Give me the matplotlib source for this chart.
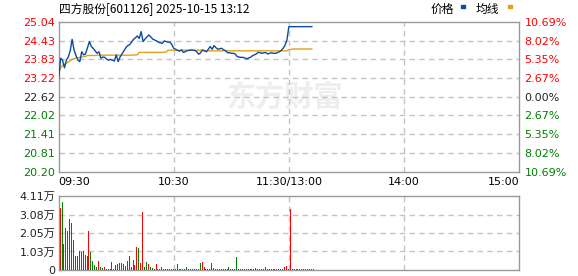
import numpy as np
import matplotlib
matplotlib.use("Agg")
from matplotlib import pyplot as plt
from matplotlib.patches import Rectangle

plt.rcParams['font.family'] = ['DejaVu Sans', 'Noto Sans CJK SC']

title = "四方股份[601126] 2025-10-15 13:12"
prev_close = 22.62

# minute prices from 09:30 (index 0) up to 13:12 (index 132)
price = [23.21, 23.86, 23.80, 23.55, 23.80, 23.90, 24.10, 24.47, 24.13, 23.95,
         23.80, 23.75, 24.07, 23.97, 24.00, 24.20, 24.40, 24.24, 24.18, 24.10,
         24.02, 24.07, 23.86, 23.90, 23.89, 23.83, 23.80, 23.82, 23.80, 23.77,
         23.97, 23.75, 23.90, 24.00, 24.10, 24.20, 24.27, 24.30, 24.38, 24.47,
         24.52, 24.58, 24.50, 24.72, 24.40, 24.48, 24.55, 24.61, 24.55, 24.48,
         24.45, 24.42, 24.38, 24.36, 24.34, 24.42, 24.40, 24.38, 24.38, 24.30,
         24.18, 24.15, 24.11, 24.09, 24.13, 24.05, 24.07, 24.11, 24.11, 24.13,
         24.12, 24.11, 24.07, 23.99, 24.04, 24.13, 24.10, 24.07, 24.15, 24.24,
         24.15, 24.27, 24.20, 24.15, 24.17, 24.18, 24.13, 24.11, 24.04, 24.04,
         24.02, 24.02, 24.00, 23.92, 23.90, 23.89, 23.89, 23.87, 23.84, 23.87,
         23.89, 23.94, 23.97, 24.00, 24.05, 24.04, 24.02, 24.04, 24.04, 24.00,
         24.02, 24.04, 24.02, 24.02, 24.04, 24.07, 24.11, 24.18, 24.28, 24.45,
         24.88, 24.88, 24.88, 24.88, 24.88, 24.88, 24.88, 24.88, 24.88, 24.88,
         24.88, 24.88, 24.88]

avg = [23.40, 23.55, 23.63, 23.66, 23.70, 23.74, 23.78, 23.82, 23.85, 23.87,
       23.88, 23.89, 23.90, 23.91, 23.92, 23.95, 23.95, 23.95, 23.95, 23.95,
       23.96, 23.96, 23.96, 23.96, 23.96, 23.96, 23.96, 23.96, 23.96, 23.96,
       23.96, 23.96, 23.96, 23.96, 23.96, 23.96, 23.96, 23.96, 23.96, 23.96,
       23.97, 23.97, 24.05, 24.05, 24.05, 24.05, 24.05, 24.05, 24.05, 24.05,
       24.05, 24.05, 24.05, 24.05, 24.05, 24.06, 24.06, 24.12, 24.12, 24.12,
       24.12, 24.12, 24.12, 24.12, 24.12, 24.12, 24.12, 24.12, 24.12, 24.12,
       24.12, 24.12, 24.12, 24.12, 24.12, 24.12, 24.10, 24.10, 24.10, 24.10,
       24.10, 24.10, 24.10, 24.10, 24.10, 24.10, 24.10, 24.10, 24.10, 24.10,
       24.10, 24.10, 24.10, 24.10, 24.10, 24.10, 24.10, 24.10, 24.10, 24.10,
       24.10, 24.10, 24.10, 24.10, 24.10, 24.10, 24.10, 24.10, 24.10, 24.10,
       24.10, 24.10, 24.10, 24.10, 24.10, 24.10, 24.10, 24.10, 24.10, 24.10,
       24.14, 24.14, 24.16, 24.16, 24.16, 24.16, 24.16, 24.16, 24.16, 24.16,
       24.16, 24.16, 24.16]

# volume in 万 shares, 1 = up minute (red), 0 = down minute (green)
volume = [3.43, 3.76, 1.44, 2.31, 2.16, 2.81, 2.61, 1.65, 0.76, 0.76,
          1.07, 1.00, 1.07, 0.83, 0.76, 2.16, 1.02, 0.50, 0.26, 0.15,
          0.50, 0.15, 0.10, 0.15, 0.06, 0.06, 0.05, 0.44, 0.06, 0.26,
          0.33, 0.39, 0.39, 0.33, 0.20, 0.52, 0.76, 0.15, 0.57, 0.28,
          1.27, 1.20, 0.39, 3.20, 0.15, 0.44, 0.33, 0.15, 0.10, 0.06,
          0.33, 0.06, 0.06, 0.17, 0.05, 0.05, 0.05, 0.05, 0.05, 0.05,
          0.05, 0.33, 0.05, 0.06, 0.05, 0.05, 0.17, 0.05, 0.05, 0.05,
          0.05, 0.05, 0.05, 0.39, 0.44, 0.17, 0.05, 0.06, 0.05, 0.39,
          0.10, 0.05, 0.05, 0.05, 0.05, 0.05, 0.05, 0.05, 0.15, 0.05,
          0.05, 0.05, 0.72, 0.05, 0.05, 0.05, 0.05, 0.05, 0.05, 0.05,
          0.05, 0.05, 0.10, 0.05, 0.05, 0.05, 0.05, 0.15, 0.05, 0.05,
          0.05, 0.05, 0.05, 0.05, 0.05, 0.05, 0.05, 0.15, 0.20, 0.05,
          3.38, 0.05, 0.05, 0.05, 0.05, 0.05, 0.05, 0.05, 0.05, 0.05,
          0.05, 0.05, 0.05]
vol_up = [1, 0, 0, 1, 1, 1, 1, 0, 0, 0,
          1, 1, 0, 1, 1, 1, 0, 0, 0, 0,
          1, 0, 0, 1, 0, 0, 0, 1, 0, 1,
          0, 1, 1, 1, 1, 1, 0, 0, 1, 1,
          1, 0, 1, 1, 0, 0, 1, 0, 0, 0,
          1, 0, 1, 0, 0, 1, 0, 1, 0, 1,
          0, 0, 1, 1, 1, 1, 0, 0, 1, 1,
          1, 1, 1, 0, 1, 1, 0, 1, 1, 1,
          0, 0, 0, 0, 0, 0, 0, 0, 0, 0,
          0, 0, 0, 0, 0, 0, 0, 0, 0, 0,
          0, 0, 1, 0, 0, 0, 0, 1, 1, 1,
          1, 1, 1, 1, 1, 1, 1, 1, 1, 1,
          1, 1, 1, 1, 1, 1, 1, 1, 1, 1,
          1, 1, 1]

price_ticks = [25.04, 24.43, 23.83, 23.22, 22.62, 22.02, 21.41, 20.81, 20.20]
pct_labels = ["10.69%", "8.02%", "5.35%", "2.67%", "0.00%", "2.67%", "5.35%", "8.02%", "10.69%"]
time_ticks = [0, 60, 120, 180, 240]
time_labels = ["09:30", "10:30", "11:30/13:00", "14:00", "15:00"]
vol_ticks = [0, 1.03, 2.05, 3.08, 4.11]
vol_labels = ["0", "1.03万", "2.05万", "3.08万", "4.11万"]

RED = "#ff0000"
GREEN = "#008000"
DARK = "#222222"
BLUE = "#0c4c9e"
GOLD = "#e0a21c"
FRAME = "#999999"
GRID = "#c4c4c4"

W, H = 578, 276
fig = plt.figure(figsize=(W / 100, H / 100), dpi=100)

def fx(px):
    return px / W

def fy(px):
    return 1 - px / H

ax = fig.add_axes([fx(58.7), fy(171.7), fx(519) - fx(58.7), fy(21.7) - fy(171.7)])
axv = fig.add_axes([fx(58.7), fy(270), fx(519) - fx(58.7), fy(196) - fy(270)])

# watermark
ax.text(0.49, 0.5, "东方财富", transform=ax.transAxes, ha="center", va="center",
        fontsize=21, fontweight="bold", color="#eeeef1", family=['Noto Sans CJK SC'], zorder=0)

minutes = np.arange(len(price))
ax.plot(minutes, price, color=BLUE, lw=1.0, zorder=3)
ax.plot(minutes, avg, color=GOLD, lw=1.0, zorder=2)

for a in (ax, axv):
    a.set_xlim(0, 240)
    for s in a.spines.values():
        s.set_color(FRAME)
        s.set_linewidth(1.0)
    a.set_xticks(time_ticks)
    a.tick_params(length=0)

ax.set_ylim(price_ticks[-1], price_ticks[0])
ax.set_yticks(price_ticks)
ax.set_yticklabels([f"{t:.2f}" for t in price_ticks], fontsize=8)
ax.tick_params(axis="y", pad=2.5)
for lab, t in zip(ax.get_yticklabels(), price_ticks):
    lab.set_color(RED if t > prev_close else (GREEN if t < prev_close else DARK))

ax.set_xticklabels(time_labels, fontsize=8)
ax.tick_params(axis="x", pad=4)
xl = ax.get_xticklabels()
xl[0].set_ha("left")
xl[-1].set_ha("right")

# dashed grid inside the frame
for t in price_ticks[1:-1]:
    ax.axhline(t, color=GRID, ls=(0, (4, 3)), lw=1.0, zorder=1)
for t in time_ticks[1:-1]:
    ax.axvline(t, color=GRID, ls=(0, (4, 3)), lw=1.0, zorder=1)
    axv.axvline(t, color=GRID, ls=(0, (4, 3)), lw=1.0, zorder=1)
for t in vol_ticks[1:-1]:
    axv.axhline(t, color=GRID, ls=(0, (4, 3)), lw=1.0, zorder=1)

ax2 = ax.twinx()
ax2.set_ylim(price_ticks[-1], price_ticks[0])
ax2.set_yticks(price_ticks)
ax2.set_yticklabels(pct_labels, fontsize=8)
ax2.tick_params(length=0, pad=4)
for s in ax2.spines.values():
    s.set_visible(False)
for lab, t in zip(ax2.get_yticklabels(), price_ticks):
    lab.set_color(RED if t > prev_close else (GREEN if t < prev_close else DARK))

# volume bars
vol_colors = [RED if u else GREEN for u in vol_up]
axv.vlines(np.arange(len(volume)) + 0.5, 0, volume, colors=vol_colors,
           linewidth=0.72, antialiased=False, zorder=3)
axv.set_ylim(0, vol_ticks[-1])
axv.set_yticks(vol_ticks)
axv.set_yticklabels(vol_labels, fontsize=8, color=DARK)
axv.tick_params(axis="y", pad=2.5)
axv.set_xticklabels([])

fig.text(fx(59), fy(8.5), title, fontsize=8.5, ha="left", va="center", color="#000000",
         family=['Noto Sans CJK SC', 'DejaVu Sans'])

# legend
fig.text(fx(431), fy(9), "价格", fontsize=8.5, ha="left", va="center", family=['Noto Sans CJK SC'])
fig.patches.append(Rectangle((fx(461), fy(7.5)), 4 / W, 2.5 / H, transform=fig.transFigure,
                             color=BLUE, figure=fig))
fig.text(fx(476), fy(9), "均线", fontsize=8.5, ha="left", va="center", family=['Noto Sans CJK SC'])
fig.patches.append(Rectangle((fx(508), fy(7.5)), 4 / W, 2.5 / H, transform=fig.transFigure,
                             color=GOLD, figure=fig))

fig.savefig("out.png", dpi=100)
